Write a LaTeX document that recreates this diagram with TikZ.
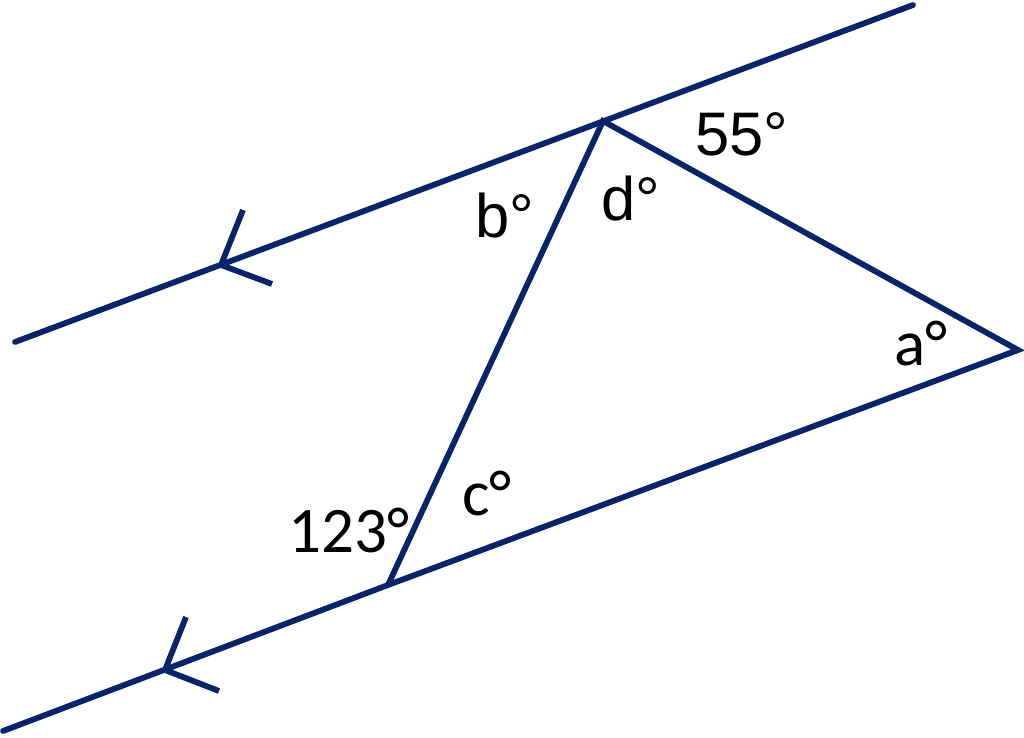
\documentclass[tikz,border=0pt]{standalone}
\usepackage{fontspec}
\setmainfont{Carlito}
\newfontfamily\arialfont{Liberation Sans}
\definecolor{azul}{RGB}{8,36,104}
\tikzset{
  recta/.style={azul, line width=3.3pt, line cap=round},
  etiqueta/.style={anchor=base west, inner sep=0pt, font=\fontsize{37}{40}\selectfont},
  etiquetaA/.style={etiqueta, font=\arialfont\fontsize{35}{40}\selectfont}
}
\begin{document}
\begin{tikzpicture}[x=0.02cm, y=-0.02cm]
        \useasboundingbox (0,0) rectangle (1024,737);
        % Puntos
        \coordinate (T1) at (15,342);
        \coordinate (T2) at (913,5);
        \coordinate (B1) at (3,731);
        \coordinate (P) at (603,121);
        \coordinate (Q) at (388,585);
        \coordinate (R) at (1018,350);
        
        % Rectas paralelas
        \draw[recta] (T1) -- (T2);
        \draw[recta, line join=miter] (B1) -- (Q) -- (R) -- (P) -- (Q);
        
        % Marcas de paralelas
        \coordinate (m1) at (221,265);
        \coordinate (m2) at (165,670);
        \draw[recta, line cap=butt] (243,210) -- (m1) -- (272,284);
        \draw[recta, line cap=butt] (186,617) -- (m2) -- (219,691);
        
        % Angulos
        \node[etiquetaA] (n55) at (695,155) {55°};
        \node[etiquetaA] (nd) at (601,220) {d°};
        \node[etiquetaA] (nb) at (475,237) {b°};
        \node[etiqueta] (na) at (894,365) {a°};
        \node[etiqueta] (nc) at (462,515) {c°};
        \node[etiqueta] (n123) at (288,552) {123°};
\end{tikzpicture}
\end{document}
